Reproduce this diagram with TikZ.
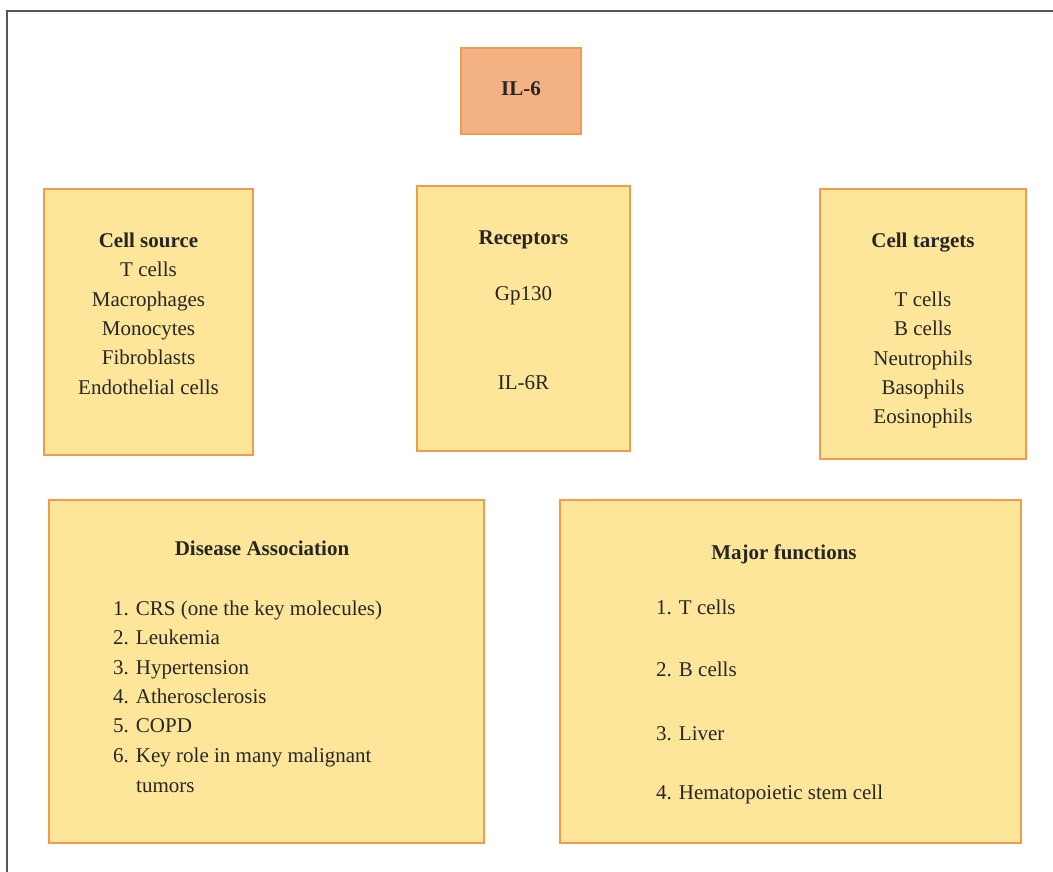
\documentclass[tikz,border=0pt]{standalone}
\usepackage{fontspec}
\setmainfont{Liberation Serif}
\usepackage{tikz}
\usetikzlibrary{positioning}

\definecolor{boxfill}{HTML}{FDE699}
\definecolor{boxline}{HTML}{F29A50}
\definecolor{headfill}{HTML}{F4B183}
\definecolor{framegray}{HTML}{555555}

\begin{document}
\begin{tikzpicture}[x=1pt, y=-1pt,
    infobox/.style={rectangle, draw=boxline, line width=1.4pt, fill=boxfill, inner sep=0pt},
    title/.style={font=\fontsize{21}{29}\selectfont\bfseries, anchor=mid, yshift=-5pt, text=black!85},
    item/.style={font=\fontsize{21}{29}\selectfont, anchor=mid, yshift=-5pt, text=black!85},
    listitem/.style={item, anchor=mid west, inner xsep=0pt}]
    \useasboundingbox (0,0) rectangle (1053,872);
    % Outer frame (cut off at right and bottom)
    \draw[framegray, line width=2pt] (7,880) -- (7,11) -- (1060,11);

    % Central cytokine
    \node[infobox, fill=headfill, minimum width=120pt, minimum height=86pt] (il6) at (521,91) {};
    \node[title] (il6text) at (521,88) {IL-6};

    % Cell source
    \node[infobox, minimum width=209pt, minimum height=266pt] (source) at (148.5,322) {};
    \node[title] (sourcetitle) at (148.5,240) {Cell source};
    \foreach \txt [count=\i] in {T cells, Macrophages, Monocytes, Fibroblasts, Endothelial cells} {
        \node[item] (source\i) at (148.5, {240+\i*29.4}) {\txt};
    }

    % Receptors
    \node[infobox, minimum width=213pt, minimum height=265pt] (receptors) at (523.5,318.5) {};
    \node[title] (receptorstitle) at (523.5,237) {Receptors};
    \node[item] (gp130) at (523.5,293) {Gp130};
    \node[item] (il6r) at (523.5,382) {IL-6R};

    % Cell targets
    \node[infobox, minimum width=206pt, minimum height=270pt] (targets) at (923,324) {};
    \node[title] (targetstitle) at (923,240) {Cell targets};
    \foreach \txt [count=\i] in {T cells, B cells, Neutrophils, Basophils, Eosinophils} {
        \node[item] (target\i) at (923, {269.6+\i*29.4}) {\txt};
    }

    % Disease association
    \node[infobox, minimum width=435pt, minimum height=343pt] (disease) at (266.5,671.5) {};
    \node[title] (diseasetitle) at (262,548) {Disease Association};
    \foreach \txt [count=\i] in {1. CRS (one the key molecules), 2. Leukemia, 3. Hypertension,
        4. Atherosclerosis, 5. COPD, 6. Key role in many malignant} {
        \node[listitem] (disease\i) at (113, {578.6+\i*29.4}) {\txt};
    }
    \node[listitem] (disease7) at (136,785) {tumors};

    % Major functions
    \node[infobox, minimum width=461pt, minimum height=343pt] (functions) at (790.5,671.5) {};
    \node[title] (functionstitle) at (784,552) {Major functions};
    \node[listitem] (function1) at (656,607) {1. T cells};
    \node[listitem] (function2) at (656,669) {2. B cells};
    \node[listitem] (function3) at (656,733) {3. Liver};
    \node[listitem] (function4) at (656,792) {4. Hematopoietic stem cell};
\end{tikzpicture}
\end{document}
